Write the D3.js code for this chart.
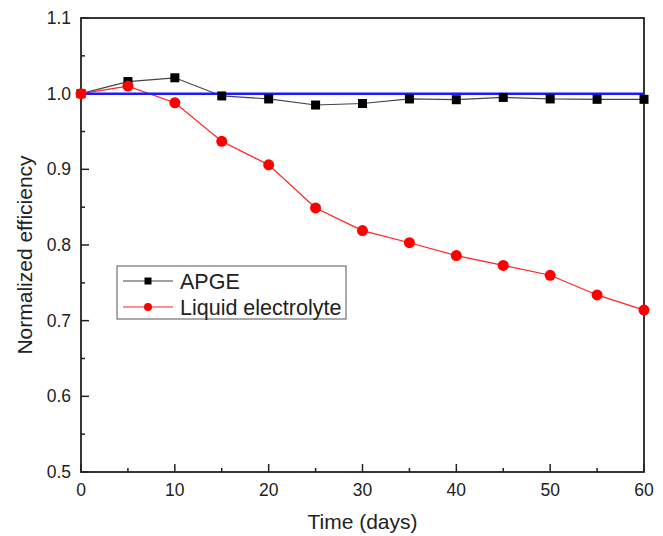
<!DOCTYPE html>
<html>
<head>
<meta charset="utf-8">
<script src="https://cdn.jsdelivr.net/npm/d3@7"></script>
<style>
  body { margin: 0; background: #fff; }
  svg { display: block; font-family: "Liberation Sans", Arial, sans-serif; }
</style>
</head>
<body>
<div id="chart"></div>
<script>
const days = [0, 5, 10, 15, 20, 25, 30, 35, 40, 45, 50, 55, 60];
const apgeValues = [1.0, 1.016, 1.021, 0.997, 0.993, 0.985, 0.987, 0.993, 0.992, 0.995, 0.993, 0.9925, 0.9925];
const liquidValues = [1.0, 1.010, 0.988, 0.937, 0.906, 0.849, 0.819, 0.803, 0.786, 0.773, 0.760, 0.734, 0.714];
const referenceValue = 1.0;
const xTicks = [0, 10, 20, 30, 40, 50, 60];
const yTicks = [0.5, 0.6, 0.7, 0.8, 0.9, 1.0, 1.1];
const seriesNames = ["APGE", "Liquid electrolyte"];

const width = 663, height = 536;
const margin = { top: 18, right: 19, bottom: 64, left: 81 };
const innerW = width - margin.left - margin.right;
const innerH = height - margin.top - margin.bottom;

const svg = d3.select("#chart").append("svg")
    .attr("width", width).attr("height", height);
const g = svg.append("g").attr("transform", `translate(${margin.left},${margin.top})`);

const x = d3.scaleLinear().domain([0, 60]).range([0, innerW]);
const y = d3.scaleLinear().domain([0.5, 1.1]).range([innerH, 0]);

// minor ticks
const xMinor = d3.range(5, 60, 10);
const yMinor = d3.range(0.55, 1.1, 0.1);

g.selectAll(".xminor").data(xMinor).join("line")
    .attr("x1", d => x(d)).attr("x2", d => x(d))
    .attr("y1", innerH).attr("y2", innerH - 4)
    .attr("stroke", "#222").attr("stroke-width", 1.5);
g.selectAll(".yminor").data(yMinor).join("line")
    .attr("x1", 0).attr("x2", 4)
    .attr("y1", d => y(d)).attr("y2", d => y(d))
    .attr("stroke", "#222").attr("stroke-width", 1.5);

// major ticks
g.selectAll(".xmajor").data(xTicks).join("line")
    .attr("x1", d => x(d)).attr("x2", d => x(d))
    .attr("y1", innerH).attr("y2", innerH - 8)
    .attr("stroke", "#222").attr("stroke-width", 1.5);
g.selectAll(".ymajor").data(yTicks).join("line")
    .attr("x1", 0).attr("x2", 8)
    .attr("y1", d => y(d)).attr("y2", d => y(d))
    .attr("stroke", "#222").attr("stroke-width", 1.5);

// tick labels
g.selectAll(".xlab").data(xTicks).join("text")
    .attr("x", d => x(d)).attr("y", innerH + 24)
    .attr("text-anchor", "middle").attr("font-size", 17.5).attr("fill", "#222")
    .text(d => d);
g.selectAll(".ylab").data(yTicks).join("text")
    .attr("x", -10).attr("y", d => y(d)).attr("dy", "0.35em")
    .attr("text-anchor", "end").attr("font-size", 17.5).attr("fill", "#222")
    .text(d => d3.format(".1f")(d));

// frame
g.append("rect").attr("width", innerW).attr("height", innerH)
    .attr("fill", "none").attr("stroke", "#222").attr("stroke-width", 1.8);

// axis titles
svg.append("text")
    .attr("x", margin.left + innerW / 2).attr("y", height - 7)
    .attr("text-anchor", "middle").attr("font-size", 21).attr("fill", "#222")
    .text("Time (days)");
svg.append("text")
    .attr("transform", `translate(32,${margin.top + innerH / 2 + 10}) rotate(-90)`)
    .attr("text-anchor", "middle").attr("font-size", 21).attr("fill", "#222")
    .text("Normalized efficiency");

const line = d3.line().x(d => x(d[0])).y(d => y(d[1]));
const apge = days.map((d, i) => [d, apgeValues[i]]);
const liquid = days.map((d, i) => [d, liquidValues[i]]);

g.append("path").datum(apge).attr("d", line)
    .attr("fill", "none").attr("stroke", "#444").attr("stroke-width", 1.2);
g.append("path").datum(liquid).attr("d", line)
    .attr("fill", "none").attr("stroke", "#f22").attr("stroke-width", 1.2);

// reference line at 1.0
g.append("line")
    .attr("x1", 0).attr("x2", innerW)
    .attr("y1", y(referenceValue)).attr("y2", y(referenceValue))
    .attr("stroke", "#1a1aff").attr("stroke-width", 2.5);

g.selectAll(".sq").data(apge).join("rect")
    .attr("x", d => x(d[0]) - 4.5).attr("y", d => y(d[1]) - 4.5)
    .attr("width", 9).attr("height", 9).attr("fill", "#000");
g.selectAll(".dot").data(liquid).join("circle")
    .attr("cx", d => x(d[0])).attr("cy", d => y(d[1])).attr("r", 5.5)
    .attr("fill", "#f00");

// legend
const lg = svg.append("g").attr("transform", "translate(117,266)");
lg.append("rect").attr("width", 229).attr("height", 53)
    .attr("fill", "#fff").attr("stroke", "#555").attr("stroke-width", 1);
const legendRows = [
    { name: seriesNames[0], color: "#444", marker: "square" },
    { name: seriesNames[1], color: "#f22", marker: "circle" }
];
legendRows.forEach((r, i) => {
    const ry = 15 + i * 26;
    lg.append("line").attr("x1", 6).attr("x2", 56).attr("y1", ry).attr("y2", ry)
        .attr("stroke", r.color).attr("stroke-width", 1);
    if (r.marker === "square") {
        lg.append("rect").attr("x", 31 - 3.5).attr("y", ry - 3.5).attr("width", 7).attr("height", 7).attr("fill", "#000");
    } else {
        lg.append("circle").attr("cx", 31).attr("cy", ry).attr("r", 4).attr("fill", "#f00");
    }
    lg.append("text").attr("x", 63).attr("y", ry).attr("dy", "0.36em")
        .attr("font-size", 21.5).attr("fill", "#222").text(r.name);
});
</script>
</body>
</html>
